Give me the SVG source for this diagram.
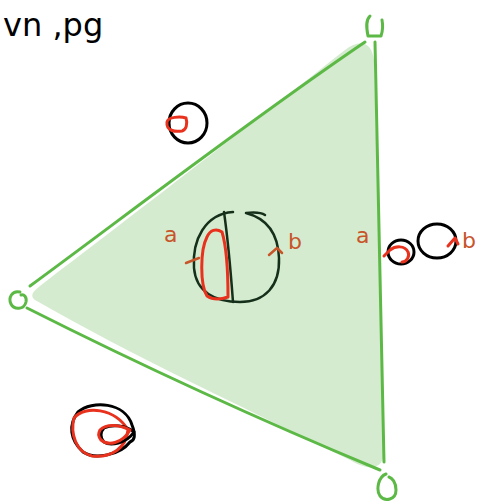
<svg xmlns="http://www.w3.org/2000/svg" width="482" height="502" viewBox="0 0 482 502">
<style>
.g{fill:none;stroke:#5cb946;stroke-width:3;stroke-linecap:round;stroke-linejoin:round}
.k{fill:none;stroke:#000;stroke-width:3;stroke-linecap:round;stroke-linejoin:round}
.dk{fill:none;stroke:#15301a;stroke-width:2.5;stroke-linecap:round;stroke-linejoin:round}
.r{fill:none;stroke:#e8321e;stroke-width:3;stroke-linecap:round;stroke-linejoin:round}
.o{fill:none;stroke:#c8552a;stroke-width:2.5;stroke-linecap:round;stroke-linejoin:round}
.lbl{font-family:"Comic Sans MS","DejaVu Sans",sans-serif;font-size:22px;fill:#c8552a}
</style>
<rect width="482" height="502" fill="#fff"/>
<g id="title"><text x="3" y="36" font-family="DejaVu Sans, sans-serif" font-size="32" fill="#000">vn ,pg</text></g>
<g id="triangle">
<path d="M40,286 C120,225 250,125 345,50 C360,38 372,42 374,60 L384,450 C384,470 370,472 350,460 C260,415 130,355 35,300 C30,296 32,292 40,286 Z" fill="#d5ebcf"/>
<path class="g" d="M30,286 C120,220 250,120 365,42"/>
<path class="g" d="M375,42 C377,180 380,320 384,462"/>
<path class="g" d="M27,308 C140,365 260,420 380,470"/>
</g>
<g id="vtop"><path class="g" d="M370,16 C366,20 366,26 368,36 L381,36 C383,30 383,25 382,20"/></g>
<g id="vleft"><path class="g" d="M20,292 C12,290 8,298 11,304 C14,310 24,310 26,302 C27,297 24,294 21,295"/></g>
<g id="vbottom"><path class="g" d="M386,474 C378,477 376,490 380,496 C385,502 396,500 396,490 C396,482 392,478 389,477"/></g>
<g id="node-topleft">
<ellipse class="k" cx="188" cy="123" rx="19" ry="20"/>
<path class="r" d="M167,122 C168,117 180,116 186,118 C188,124 186,130 182,131 C175,132 166,131 167,122 Z"/>
</g>
<g id="node-center">
<path class="dk" d="M233,212 C205,214 192,240 194,268 C196,292 215,302 240,302 C265,302 280,286 279,258 C278,232 265,218 246,213 C255,212 262,213 265,215"/>
<path class="dk" d="M224,212 C228,240 231,275 233,302"/>
<path class="r" d="M207,237 C200,250 200,285 207,296 C213,300 222,299 228,297 C228,270 226,245 222,232 C216,228 210,230 207,237 Z"/>
<path class="o" d="M186,263 L199,258"/>
<path class="o" d="M269,255 L277,248 L282,253"/>
<text class="lbl" x="164" y="242">a</text>
<text class="lbl" x="288" y="249">b</text>
</g>
<g id="node-right">
<ellipse class="k" cx="401" cy="252" rx="13" ry="12"/>
<ellipse class="k" cx="437" cy="241" rx="19" ry="17"/>
<path class="r" d="M384,256 L390,250 C395,246 405,245 408,252 C410,256 407,262 402,262"/>
<path class="r" d="M448,246 L455,238 L458,244"/>
<text class="lbl" x="356" y="243">a</text>
<text class="lbl" x="462" y="248" fill="#e8321e">b</text>
</g>
<g id="node-bottomleft">
<path class="k" d="M78,412 C92,400 125,402 132,425 C136,435 135,440 130,442 C120,455 95,460 83,452 C70,440 68,425 78,412 Z"/>
<path class="r" d="M74,418 C85,405 115,408 128,430 C126,448 112,458 92,456 C76,452 70,434 74,418 Z"/>
<path class="k" d="M104,428 C112,424 126,425 134,432 C126,444 110,446 104,442 C100,438 100,432 104,428 Z"/>
<path class="r" d="M100,430 C106,424 118,424 130,430 C122,444 108,446 101,440 C98,436 98,434 100,430 Z"/>
</g>
</svg>
